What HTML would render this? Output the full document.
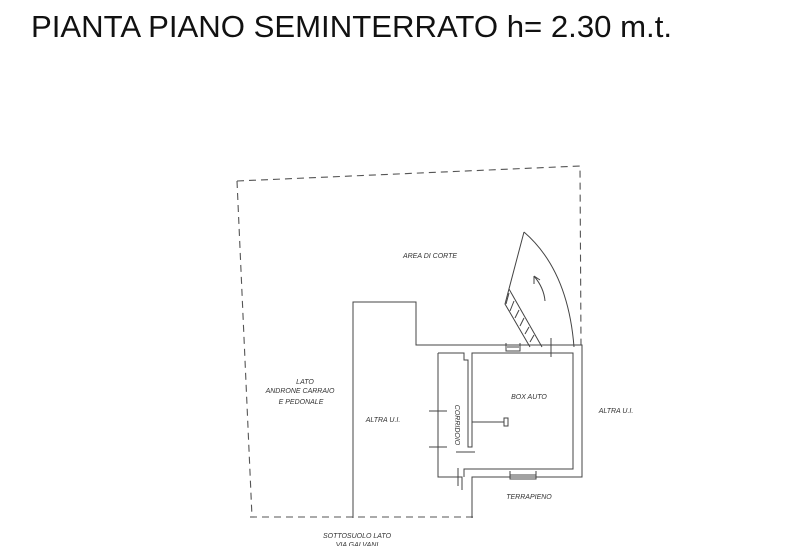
<!DOCTYPE html>
<html><head><meta charset="utf-8"><style>
html,body{margin:0;padding:0;background:#fff;}
svg{display:block;}
text{font-family:"Liberation Sans",sans-serif;}
.l{font-size:7px;font-style:italic;fill:#333;text-anchor:middle;}
</style></head><body>
<svg width="800" height="546" viewBox="0 0 800 546" xmlns="http://www.w3.org/2000/svg">
<text x="31" y="37" font-size="31" textLength="641" lengthAdjust="spacingAndGlyphs" fill="#111">PIANTA PIANO SEMINTERRATO h= 2.30 m.t.</text>
<g fill="none" stroke="#555" stroke-width="1.1" stroke-dasharray="7,5">
<path d="M237,181 L580,166 L581,345"/>
<path d="M237,181 L252,517"/>
<path d="M250,517 L477,517"/>
</g>
<g fill="none" stroke="#444" stroke-width="1">
<path d="M353,518 L353,302 L416,302 L416,345 L582,345 L582,477 L472,477 L472,518"/>
<path d="M438,353 L438,477 L462,477 L462,490"/>
<path d="M438,353 L464,353 L464,360 L468,360 L468,447 L472,447 L472,353 L573,353 L573,469 L464,469 L464,477"/>
<path d="M524,232 Q568,270 574,347"/>
<path d="M524,232 L505,304 L530,347"/>
<path d="M509,289 L542,347"/>
<path d="M509,293 L506,304 M514,301 L510,311 M519,310 L515,318 M524,318 L520,326 M529,327 L525,334 M534,335 L530,342"/>
<path d="M545,301 Q544,288 534,276 M534,276 L534,284 M534,276 L540,280"/>
<path d="M551,338 L551,357"/>
<path d="M506,343 L506,351 L520,351 L520,343 M507,347 L519,347"/>
<path d="M510,471 L510,479 L536,479 L536,471 M510,475 L536,475"/>
<path d="M472,422 L504,422 L504,418 L508,418 L508,426 L504,426 L504,422"/>
<path d="M429,411 L447,411 M429,447 L447,447 M456,452 L475,452 M458,468 L458,486"/>
</g>
<text class="l" x="430" y="258">AREA DI CORTE</text>
<text class="l" x="305" y="384">LATO</text>
<text class="l" x="300" y="393">ANDRONE CARRAIO</text>
<text class="l" x="301" y="404">E PEDONALE</text>
<text class="l" x="383" y="422">ALTRA U.I.</text>
<text class="l" x="529" y="399">BOX AUTO</text>
<text class="l" x="616" y="413">ALTRA U.I.</text>
<text class="l" x="529" y="499">TERRAPIENO</text>
<text class="l" x="357" y="538">SOTTOSUOLO LATO</text>
<text class="l" x="357" y="547">VIA GALVANI</text>
<text class="l" transform="translate(455,425) rotate(90)">CORRIDOIO</text>
</svg>
</body></html>
